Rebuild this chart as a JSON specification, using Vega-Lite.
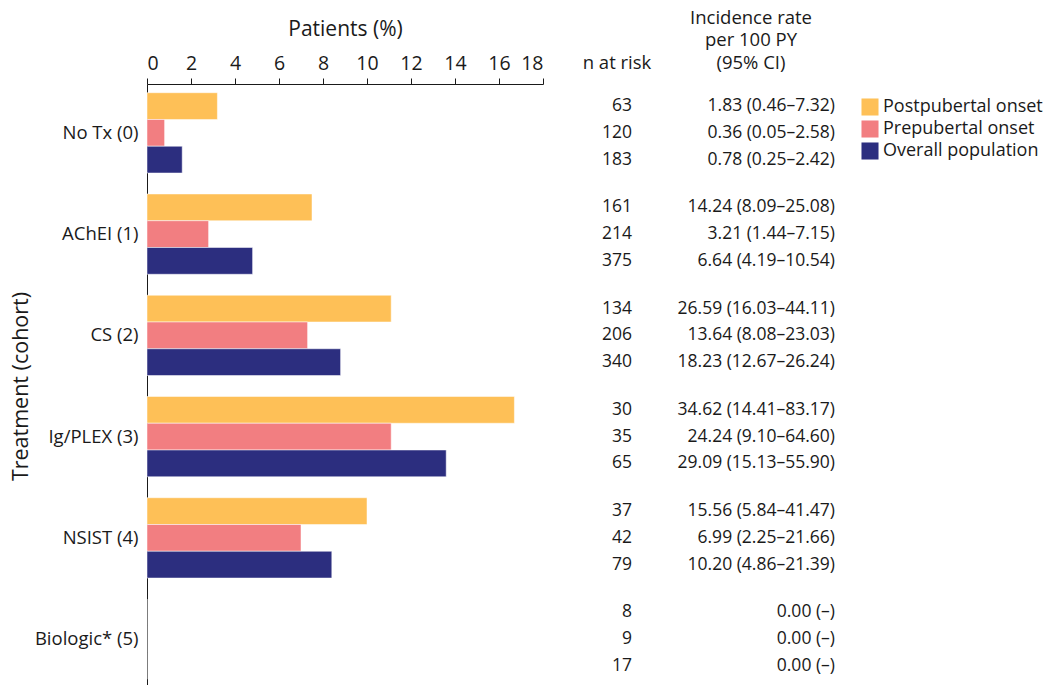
{
  "$schema": "https://vega.github.io/schema/vega-lite/v6.json",
  "background": "white",
  "padding": {"left": 10, "top": 8, "right": 2, "bottom": 0},
  "bounds": "flush",
  "spacing": 59,
  "config": {
    "font": "Open Sans",
    "view": {"stroke": null},
    "text": {"font": "Open Sans"},
    "title": {"font": "Open Sans", "fontWeight": "normal", "fontSize": 18.5, "color": "#1a1a1a"}
  },
  "data": {
    "values": [
      {"cohort": "No Tx (0)", "group": "Postpubertal onset", "pct": 3.2, "n": 63, "rate": "1.83 (0.46–7.32)"},
      {"cohort": "No Tx (0)", "group": "Prepubertal onset", "pct": 0.8, "n": 120, "rate": "0.36 (0.05–2.58)"},
      {"cohort": "No Tx (0)", "group": "Overall population", "pct": 1.6, "n": 183, "rate": "0.78 (0.25–2.42)"},
      {"cohort": "AChEI (1)", "group": "Postpubertal onset", "pct": 7.5, "n": 161, "rate": "14.24 (8.09–25.08)"},
      {"cohort": "AChEI (1)", "group": "Prepubertal onset", "pct": 2.8, "n": 214, "rate": "3.21 (1.44–7.15)"},
      {"cohort": "AChEI (1)", "group": "Overall population", "pct": 4.8, "n": 375, "rate": "6.64 (4.19–10.54)"},
      {"cohort": "CS (2)", "group": "Postpubertal onset", "pct": 11.1, "n": 134, "rate": "26.59 (16.03–44.11)"},
      {"cohort": "CS (2)", "group": "Prepubertal onset", "pct": 7.3, "n": 206, "rate": "13.64 (8.08–23.03)"},
      {"cohort": "CS (2)", "group": "Overall population", "pct": 8.8, "n": 340, "rate": "18.23 (12.67–26.24)"},
      {"cohort": "Ig/PLEX (3)", "group": "Postpubertal onset", "pct": 16.7, "n": 30, "rate": "34.62 (14.41–83.17)"},
      {"cohort": "Ig/PLEX (3)", "group": "Prepubertal onset", "pct": 11.1, "n": 35, "rate": "24.24 (9.10–64.60)"},
      {"cohort": "Ig/PLEX (3)", "group": "Overall population", "pct": 13.6, "n": 65, "rate": "29.09 (15.13–55.90)"},
      {"cohort": "NSIST (4)", "group": "Postpubertal onset", "pct": 10.0, "n": 37, "rate": "15.56 (5.84–41.47)"},
      {"cohort": "NSIST (4)", "group": "Prepubertal onset", "pct": 7.0, "n": 42, "rate": "6.99 (2.25–21.66)"},
      {"cohort": "NSIST (4)", "group": "Overall population", "pct": 8.4, "n": 79, "rate": "10.20 (4.86–21.39)"},
      {"cohort": "Biologic* (5)", "group": "Postpubertal onset", "pct": 0, "n": 8, "rate": "0.00 (–)"},
      {"cohort": "Biologic* (5)", "group": "Prepubertal onset", "pct": 0, "n": 9, "rate": "0.00 (–)"},
      {"cohort": "Biologic* (5)", "group": "Overall population", "pct": 0, "n": 17, "rate": "0.00 (–)"}
    ]
  },
  "hconcat": [
    {
      "width": 396,
      "height": 604,
      "mark": {"type": "bar", "stroke": "white", "strokeWidth": 0.5},
      "encoding": {
        "x": {
          "field": "pct",
          "type": "quantitative",
          "scale": {"domain": [0, 18], "nice": false},
          "axis": {
            "orient": "top",
            "title": "Patients (%)",
            "values": [0, 2, 4, 6, 8, 10, 12, 14, 16, 18],
            "grid": false,
            "domainColor": "#1a1a1a",
            "tickColor": "#1a1a1a",
            "tickSize": 6,
            "labelFontSize": 19.5,
            "labelColor": "#1a1a1a",
            "labelPadding": 5,
            "labelFont": "Open Sans",
            "titleFont": "Open Sans",
            "titleFontSize": 21,
            "titleFontWeight": "normal",
            "titleColor": "#1a1a1a",
            "titlePadding": 14
          }
        },
        "y": {
          "field": "cohort",
          "type": "nominal",
          "sort": null,
          "scale": {"paddingInner": 0.207, "paddingOuter": 0.086},
          "axis": {
            "title": "Treatment (cohort)",
            "ticks": false,
            "domainColor": "#1a1a1a",
            "labelFontSize": 18.5,
            "labelColor": "#1a1a1a",
            "labelPadding": 9,
            "labelFont": "Open Sans",
            "titleFont": "Open Sans",
            "titleFontSize": 21.5,
            "titleFontWeight": "normal",
            "titleColor": "#1a1a1a",
            "titlePadding": 2
          }
        },
        "yOffset": {
          "field": "group",
          "type": "nominal",
          "sort": ["Postpubertal onset", "Prepubertal onset", "Overall population"],
          "scale": {"paddingInner": 0, "paddingOuter": 0}
        },
        "color": {
          "field": "group",
          "type": "nominal",
          "scale": {
            "domain": ["Postpubertal onset", "Prepubertal onset", "Overall population"],
            "range": ["#FEC057", "#F27E81", "#2C2E7F"]
          },
          "legend": {
            "title": null,
            "orient": "right",
            "offset": 12,
            "padding": 14,
            "symbolType": "square",
            "symbolSize": 290,
            "symbolStrokeWidth": 0,
            "symbolOpacity": 1,
            "labelFontSize": 18,
            "labelColor": "#1a1a1a",
            "labelFont": "Open Sans",
            "labelLimit": 300,
            "rowPadding": 4
          }
        }
      }
    },
    {
      "width": 30,
      "height": 604,
      "title": {"text": "n at risk", "offset": 12},
      "mark": {"type": "text", "align": "right", "baseline": "middle", "fontSize": 17.5, "color": "#1a1a1a"},
      "encoding": {
        "x": {"value": "width"},
        "y": {
          "field": "cohort",
          "type": "nominal",
          "sort": null,
          "scale": {"paddingInner": 0.207, "paddingOuter": 0.086},
          "axis": null
        },
        "yOffset": {
          "field": "group",
          "type": "nominal",
          "sort": ["Postpubertal onset", "Prepubertal onset", "Overall population"],
          "scale": {"type": "point", "padding": 0.5}
        },
        "text": {"field": "n", "type": "quantitative"}
      }
    },
    {
      "width": 144,
      "height": 604,
      "title": {"text": ["Incidence rate", "per 100 PY", "(95% CI)"], "offset": 12, "lineHeight": 22.5, "dx": -12},
      "mark": {"type": "text", "align": "right", "baseline": "middle", "fontSize": 17.5, "color": "#1a1a1a"},
      "encoding": {
        "x": {"value": "width"},
        "y": {
          "field": "cohort",
          "type": "nominal",
          "sort": null,
          "scale": {"paddingInner": 0.207, "paddingOuter": 0.086},
          "axis": null
        },
        "yOffset": {
          "field": "group",
          "type": "nominal",
          "sort": ["Postpubertal onset", "Prepubertal onset", "Overall population"],
          "scale": {"type": "point", "padding": 0.5}
        },
        "text": {"field": "rate", "type": "nominal"}
      }
    }
  ],
  "resolve": {"scale": {"y": "independent", "yOffset": "independent"}}
}
